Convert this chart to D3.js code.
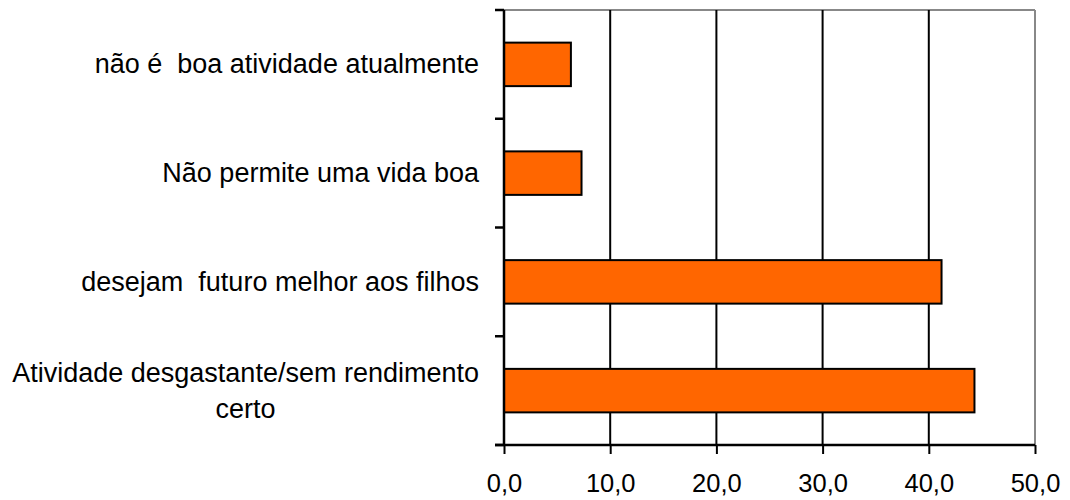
<!DOCTYPE html>
<html><head><meta charset="utf-8">
<script src="https://cdn.jsdelivr.net/npm/d3@7"></script>
<style>body{margin:0;background:#fff}svg{display:block}text{font-family:"Liberation Sans",Arial,sans-serif;fill:#000}</style>
</head><body><div id="c"></div>
<script>
const categories = ["não é  boa atividade atualmente","Não permite uma vida boa","desejam  futuro melhor aos filhos","Atividade desgastante/sem rendimento\ncerto"];
const values = [6.3, 7.3, 41.2, 44.3];
const xTicks = [0,10,20,30,40,50];
const xTickLabels = ["0,0","10,0","20,0","30,0","40,0","50,0"];

const W=1070,H=500;
const m={left:504,right:35,top:10,bottom:55};
const svg=d3.select("#c").append("svg").attr("width",W).attr("height",H);
const x=d3.scaleLinear().domain([0,50]).range([m.left,W-m.right]);
const y=d3.scaleBand().domain(categories).range([m.top,H-m.bottom]).paddingInner(0.6).paddingOuter(0.3);
const yb=d3.scaleBand().domain(categories).range([m.top,H-m.bottom]);

// plot border top/right gray
svg.append("line").attr("x1",x(0)).attr("x2",x(50)).attr("y1",m.top).attr("y2",m.top).attr("stroke","#888").attr("stroke-width",2);
svg.append("line").attr("x1",x(50)).attr("x2",x(50)).attr("y1",m.top).attr("y2",H-m.bottom).attr("stroke","#888").attr("stroke-width",2);
// gridlines
svg.selectAll(".g").data(xTicks.filter(d=>d>0&&d<50)).join("line").attr("x1",d=>x(d)).attr("x2",d=>x(d)).attr("y1",m.top).attr("y2",H-m.bottom).attr("stroke","#000").attr("stroke-width",2);

// bars
svg.selectAll(".bar").data(values).join("rect")
 .attr("x",x(0)).attr("y",(d,i)=>y(categories[i])).attr("width",d=>x(d)-x(0)).attr("height",y.bandwidth())
 .attr("fill","#ff6600").attr("stroke","#000").attr("stroke-width",2);

// x axis
const xa=svg.append("g").attr("transform",`translate(0,${H-m.bottom})`)
 .call(d3.axisBottom(x).tickValues(xTicks).tickFormat((d,i)=>xTickLabels[i]).tickSize(9).tickPadding(20));
xa.select(".domain").attr("stroke","#000").attr("stroke-width",2.5).attr("d",`M${x(0)-9},0H${x(50)}`);
xa.selectAll(".tick line").attr("stroke","#000").attr("stroke-width",2);
xa.selectAll(".tick text").attr("font-size",25.5).attr("font-family","Liberation Sans, Arial, sans-serif").attr("fill","#000");

// y axis line and ticks at band boundaries
svg.append("line").attr("x1",x(0)).attr("x2",x(0)).attr("y1",m.top).attr("y2",H-m.bottom).attr("stroke","#000").attr("stroke-width",2.5);
const bounds=categories.map(c=>yb(c)).concat([H-m.bottom]);
svg.selectAll(".yt").data(bounds).join("line").attr("x1",x(0)-9).attr("x2",x(0)).attr("y1",d=>d).attr("y2",d=>d).attr("stroke","#000").attr("stroke-width",2.5);

// category labels
const FS=27;
categories.forEach((c,i)=>{
  const lines=c.split("\n");
  const cy=yb(c)+yb.bandwidth()/2;
  const n=lines.length;
  const g=svg.append("g");
  const t0=g.append("text").attr("x",479).attr("y",cy-(n-1)*18).attr("text-anchor","end").attr("dominant-baseline","central").attr("font-size",FS).style("white-space","pre").text(lines[0]);
  if(n>1){
    const w=t0.node().getComputedTextLength();
    for(let k=1;k<n;k++) g.append("text").attr("x",479-w/2).attr("y",cy-(n-1)*18+36*k).attr("text-anchor","middle").attr("dominant-baseline","central").attr("font-size",FS).style("white-space","pre").text(lines[k]);
  }
});
</script></body></html>
